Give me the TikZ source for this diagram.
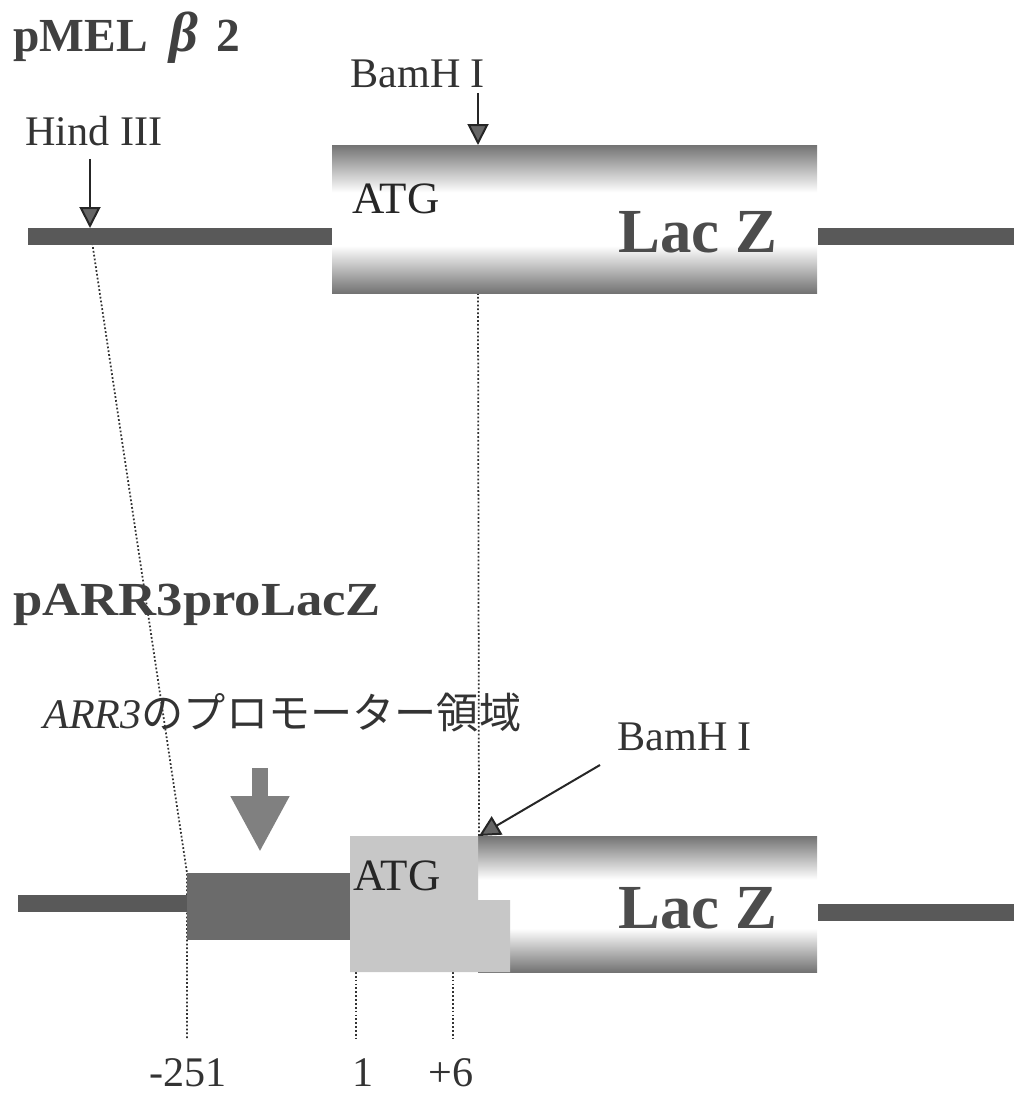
\documentclass[tikz,border=0pt]{standalone}
\usepackage{fontspec}
\setmainfont{Liberation Serif}
\newfontfamily\jpfont{Noto Sans CJK JP}
\usetikzlibrary{arrows.meta}
\pgfdeclareverticalshading{laczshade}{100bp}{color(0bp)=(black!55); color(25bp)=(black!55); color(41bp)=(white); color(59bp)=(white); color(75bp)=(black!55); color(100bp)=(black!55)}

\begin{document}
\begin{tikzpicture}[x=0.02cm,y=-0.02cm,
  dna/.style={fill=black!65},
  promoter/.style={fill=black!58},
  atgbox/.style={fill=black!22},
  lacz/.style={shading=laczshade},
  title/.style={font=\fontsize{27}{32}\selectfont\bfseries,text=black!75,inner sep=0pt,anchor=base west},
  site/.style={font=\fontsize{24}{28}\selectfont,text=black!80,inner sep=0pt,anchor=base west},
  codon/.style={font=\fontsize{25.5}{30}\selectfont,text=black!85,inner sep=0pt,anchor=base west},
  gene/.style={font=\fontsize{35.7}{40}\selectfont\bfseries,text=black!70,inner sep=0pt,anchor=base west},
  cut/.style={-{Triangle[width=0.42cm,length=0.42cm,fill=black!60]},line width=0.04cm,draw=black!85},
  bigarrow/.style={-{Triangle[width=1.1cm,length=1.12cm]},line width=0.32cm,draw=black!50},
  guide/.style={line width=1pt,dash pattern=on 1pt off 1.2pt,draw=black!80}]
  \useasboundingbox (0,0) rectangle (1014,1095);
  % Key points
  \coordinate (hindcut) at (90,228);
  \coordinate (bamcut1) at (478,145);
  \coordinate (lacz1sw) at (478,293);
  \coordinate (bamcut2) at (479,836);
  \coordinate (bamtail) at (600,765);
  \coordinate (promnw) at (187,873);
  \coordinate (promse) at (350,940);
  \coordinate (atgsw) at (356,972);
  \coordinate (plus6) at (453,972);
  \coordinate (promtail) at (260,768);
  \coordinate (promtip) at (260,852);
  % Guide lines
  \draw[guide] (hindcut) -- (promnw) -- (promnw |- 0,1038);
  \draw[guide] (lacz1sw) -- (bamcut2);
  \draw[guide] (atgsw) -- (atgsw |- 0,1038);
  \draw[guide] (plus6) -- (plus6 |- 0,1038);
  % pMEL beta 2
  \node[title] (pmel) at (13,52) {pMEL\hspace{0.45em}{\fontsize{32}{32}\selectfont\textit{β}}\hspace{0.4em}2};
  \fill[dna] (28,228) rectangle (335,245);
  \shade[lacz] (332,145) rectangle (817,293);
  \fill[dna] (818,228) rectangle (1014,245);
  \node[codon] (atg1) at (352,213) {ATG};
  \node[gene] (lacz1) at (618,252) {Lac Z};
  \node[site] (hind) at (25,145) {Hind III};
  \node[site] (bam1) at (350,88) {BamH I};
  \draw[cut, shorten <=0.26cm] (hindcut |- hind.south) -- (hindcut);
  \draw[cut, shorten <=0.08cm] (bamcut1 |- bam1.south) -- (bamcut1);
  % pARR3proLacZ
  \node[title] (parr) at (13,615) {\scalebox{1.11}[1]{pARR3proLacZ}};
  \node[site] (promlabel) at (43,728) {\textit{ARR3}\jpfont のプロモーター領域};
  \fill[dna] (18,895) rectangle (187,912);
  \fill[promoter] (promnw) rectangle (promse);
  \shade[lacz] (478,836) rectangle (817,972);
  \fill[atgbox] (350,836) -| (478,900) -| (510,972) -- (350,972) -- cycle;
  \fill[dna] (818,904) rectangle (1014,921);
  \node[codon] (atg2) at (353,890) {ATG};
  \node[gene] (lacz2) at (618,928) {Lac Z};
  \node[site] (bam2) at (617,750) {BamH I};
  \draw[bigarrow] (promtail) -- (promtip);
  \draw[cut] (bamtail) -- (bamcut2);
  % Positions
  \node[site,anchor=base] (n251) at (188,1086) {-251};
  \node[site,anchor=base] (n1) at (363,1086) {1};
  \node[site,anchor=base] (n6) at (451,1086) {+6};
\end{tikzpicture}
\end{document}
